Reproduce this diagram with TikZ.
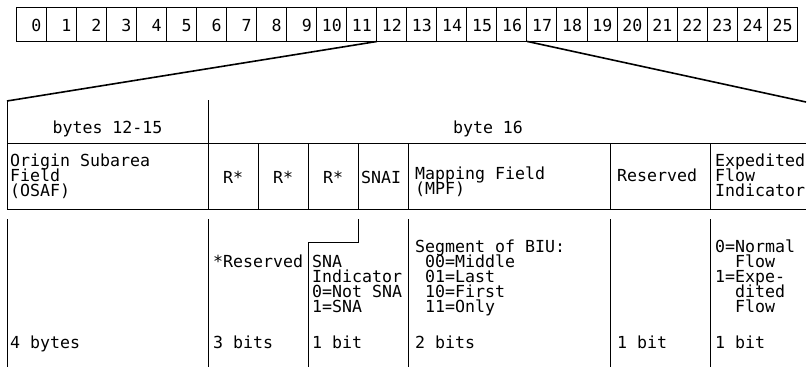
\documentclass[tikz,border=0pt]{standalone}
\usepackage{fontspec}
\setmonofont{DejaVu Sans Mono}
\usetikzlibrary{positioning, calc}
\setlength{\lineskiplimit}{-30pt}

\begin{document}
\begin{tikzpicture}[x=1pt, y=-1pt,
            % Define styles
            bytebox/.style={rectangle, draw, line width=0.9pt, minimum width=30.05pt, minimum height=34pt, inner sep=0pt},
            txt/.style={font=\fontsize{16.6}{15}\selectfont\ttfamily, inner sep=0pt, align=left, anchor=base west},
            rule/.style={line width=0.9pt},
            spread/.style={line width=1.6pt}
        ]
        \useasboundingbox (0,0) rectangle (807,367);

        % Byte row
        \foreach \i in {0,...,25}
            \node[bytebox] (b\i) at ({31.025+30.05*\i},24) {};
        \foreach \i in {0,...,25}
            \node[txt, anchor=base east] (n\i) at ($(b\i.east)+(-5,7)$) {\i};

        % Corners of the expanded table
        \coordinate (tl) at (7,101);
        \coordinate (tr) at (806,102);

        % Expansion lines
        \draw[spread] (b11.south east) -- (tl);
        \draw[spread] (b16.south east) -- (tr);

        % Header and field rows
        \draw[rule] (tl) -- (7,209.5);
        \draw[rule] (208,100) -- (208,209.5);
        \draw[rule] (7,143.5) -- (806,143.5);
        \draw[rule] (7,209.5) -- (806,209.5);
        \foreach \x in {258,308,358,408,610,710}
            \draw[rule] (\x,143.5) -- (\x,209.5);

        % Description row
        \foreach \x in {7,208,408,610,710}
            \draw[rule] (\x,219) -- (\x,367);
        \draw[rule] (358,219) -- (358,242) -- (308,242) -- (308,367);

        % Header texts
        \node[txt, anchor=base] (bytes1215) at (107.5,133) {bytes 12-15};
        \node[txt, anchor=base] (byte16) at (488,133) {byte 16};

        % Field names (base = last line)
        \node[txt] (osaf) at (10,196) {Origin Subarea\\Field\\(OSAF)};
        \node[txt, anchor=base] (r1) at (233,183) {R*};
        \node[txt, anchor=base] (r2) at (283,183) {R*};
        \node[txt, anchor=base] (r3) at (333,183) {R*};
        \node[txt] (snai) at (361,183) {SNAI};
        \node[txt] (mpf) at (415,194) {Mapping Field\\(MPF)};
        \node[txt] (rsv) at (617,181) {Reserved};
        \node[txt] (efi) at (715,196) {Expedited\\Flow\\Indicator};

        % Descriptions
        \node[txt] (rsvnote) at (213,267) {*Reserved};
        \node[txt] (snanote) at (312,312) {SNA\\Indicator\\0=Not SNA\\1=SNA};
        \node[txt] (mpfnote) at (415,312) {Segment of BIU:\\\ 00=Middle\\\ 01=Last\\\ 10=First\\\ 11=Only};
        \node[txt] (efinote) at (715,312) {0=Normal\\\ \ Flow\\1=Expe-\\\ \ dited\\\ \ Flow};

        % Lengths
        \node[txt] (len4) at (10,348) {4 bytes};
        \node[txt] (len3) at (213,348) {3 bits};
        \node[txt] (len1a) at (312,348) {1 bit};
        \node[txt] (len2) at (415,348) {2 bits};
        \node[txt] (len1b) at (617,348) {1 bit};
        \node[txt] (len1c) at (715,348) {1 bit};

        \end{tikzpicture}
\end{document}
